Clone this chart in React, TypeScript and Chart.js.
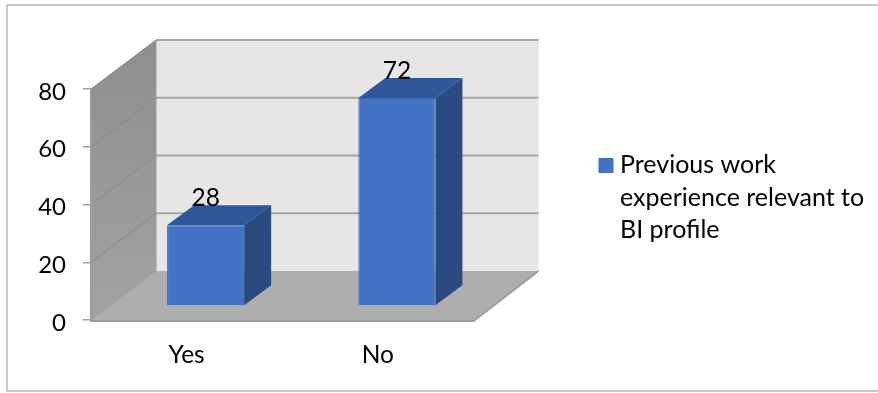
import React, { useEffect, useRef } from "react";
import { Chart, registerables } from "chart.js";

Chart.register(...registerables);

const categories = ["Yes", "No"];
const values = [28, 72];
const seriesName = "Previous work experience relevant to BI profile";
const legendLines = ["Previous work", "experience relevant to", "BI profile"];
const yTicks = [0, 20, 40, 60, 80];

const FONT = "Lato, 'Open Sans', sans-serif";
// Projection of the 3D box: how far the back wall sits from the front plane.
const WALL_DX = 65;
const WALL_DY = -49;
// Bars stand partway into the box and have their own depth.
const BAR_SHIFT_X = 19;
const BAR_SHIFT_Y = -14;
const BAR_DX = 27;
const BAR_DY = -20;

const box3d = {
  id: "box3d",
  beforeDraw(chart: any) {
    const { ctx, chartArea: a, scales } = chart;
    const y = scales.y;
    const l = a.left, r = a.right, t = a.top, b = a.bottom;
    ctx.save();
    // frame around the whole chart
    ctx.strokeStyle = "#b8b8b8";
    ctx.lineWidth = 1.5;
    ctx.beginPath();
    ctx.moveTo(878, 5);
    ctx.lineTo(7, 5);
    ctx.lineTo(7, 391);
    ctx.lineTo(878, 391);
    ctx.stroke();

    // back wall
    ctx.fillStyle = "#e6e6e6";
    ctx.fillRect(l + WALL_DX, t + WALL_DY, r - l, b - t);

    // side wall
    const grad = ctx.createLinearGradient(0, t + WALL_DY, 0, b);
    grad.addColorStop(0, "#8e8e8e");
    grad.addColorStop(1, "#a2a2a2");
    ctx.fillStyle = grad;
    ctx.beginPath();
    ctx.moveTo(l, t);
    ctx.lineTo(l + WALL_DX, t + WALL_DY);
    ctx.lineTo(l + WALL_DX, b + WALL_DY);
    ctx.lineTo(l, b);
    ctx.closePath();
    ctx.fill();

    // floor
    ctx.fillStyle = "#aeaeae";
    ctx.beginPath();
    ctx.moveTo(l, b);
    ctx.lineTo(l + WALL_DX, b + WALL_DY);
    ctx.lineTo(r + WALL_DX, b + WALL_DY);
    ctx.lineTo(r, b);
    ctx.closePath();
    ctx.fill();

    // gridlines run along the side wall and across the back wall
    yTicks.forEach((v) => {
      const py = y.getPixelForValue(v);
      if (v > 0) {
        ctx.strokeStyle = "#a6a6a6";
        ctx.lineWidth = 2;
        ctx.beginPath();
        ctx.moveTo(l + WALL_DX, py + WALL_DY);
        ctx.lineTo(r + WALL_DX, py + WALL_DY);
        ctx.stroke();
        ctx.strokeStyle = "#8a8a8a";
        ctx.lineWidth = 1;
        ctx.beginPath();
        ctx.moveTo(l, py);
        ctx.lineTo(l + WALL_DX, py + WALL_DY);
        ctx.stroke();
      }
    });

    // floor and wall edges
    ctx.strokeStyle = "#9c9c9c";
    ctx.lineWidth = 2;
    ctx.beginPath();
    ctx.moveTo(l, t);
    ctx.lineTo(l, b + 1);
    ctx.lineTo(r, b + 1);
    ctx.lineTo(r + WALL_DX, b + WALL_DY);
    ctx.stroke();
    ctx.lineWidth = 1;
    ctx.beginPath();
    ctx.moveTo(l, b);
    ctx.lineTo(l + WALL_DX, b + WALL_DY);
    ctx.lineTo(l + WALL_DX, t + WALL_DY);
    ctx.stroke();
    ctx.restore();
  },
  beforeDatasetsDraw(chart: any) {
    const { ctx } = chart;
    ctx.save();
    ctx.translate(BAR_SHIFT_X, BAR_SHIFT_Y);
    chart.getDatasetMeta(0).data.forEach((bar: any) => {
      const { x, y, base, width } = bar.getProps(["x", "y", "base", "width"], true);
      const left = x - width / 2;
      const right = x + width / 2;
      // top face
      ctx.fillStyle = "#30569a";
      ctx.beginPath();
      ctx.moveTo(left, y);
      ctx.lineTo(left + BAR_DX, y + BAR_DY);
      ctx.lineTo(right + BAR_DX, y + BAR_DY);
      ctx.lineTo(right, y);
      ctx.closePath();
      ctx.fill();
      // side face
      ctx.fillStyle = "#2b4a80";
      ctx.beginPath();
      ctx.moveTo(right, y);
      ctx.lineTo(right + BAR_DX, y + BAR_DY);
      ctx.lineTo(right + BAR_DX, base + BAR_DY);
      ctx.lineTo(right, base);
      ctx.closePath();
      ctx.fill();
    });
  },
  afterDatasetsDraw(chart: any) {
    const { ctx } = chart;
    ctx.restore();
    ctx.save();
    ctx.fillStyle = "#000000";
    ctx.font = `24.5px ${FONT}`;
    ctx.textAlign = "center";
    ctx.textBaseline = "middle";
    chart.getDatasetMeta(0).data.forEach((bar: any, i: number) => {
      const { x, y } = bar.getProps(["x", "y"], true);
      ctx.fillText(String(values[i]), x + BAR_SHIFT_X, y + BAR_SHIFT_Y - 27);
    });

    // legend, wrapped over three lines beside its swatch
    ctx.fillStyle = "#4472c4";
    ctx.fillRect(598.5, 158, 15, 15);
    ctx.fillStyle = "#000000";
    ctx.textAlign = "left";
    ctx.font = `25px ${FONT}`;
    legendLines.forEach((line, i) => {
      ctx.fillText(line, 620, 165 + i * 32.5);
    });
    ctx.restore();
  },
};

export default function App() {
  const ref = useRef<HTMLCanvasElement>(null);
  useEffect(() => {
    const chart = new Chart(ref.current!, {
      type: "bar",
      data: {
        labels: categories,
        datasets: [
          {
            label: seriesName,
            data: values,
            backgroundColor: "#4472c4",
            borderColor: "#3f69b5",
            borderWidth: 1,
            barPercentage: 0.403,
            categoryPercentage: 1,
            clip: false,
          } as any,
        ],
      },
      options: {
        responsive: false,
        animation: false,
        layout: { padding: { top: 89, right: 404.5, left: 0, bottom: 0 } },
        plugins: { legend: { display: false }, tooltip: { enabled: false } },
        scales: {
          x: {
            afterFit: (s: any) => { s.height = 73; },
            grid: { display: false },
            border: { display: false },
            ticks: {
              font: { family: FONT, size: 24.5 },
              color: "#000000",
              padding: 12,
              maxRotation: 0,
            },
          },
          y: {
            min: 0,
            max: 80,
            afterFit: (s: any) => { s.width = 91; },
            grid: { drawOnChartArea: false, tickLength: 8, color: "#a0a0a0", lineWidth: 1.5 },
            border: { display: false },
            ticks: {
              stepSize: 20,
              font: { family: FONT, size: 24 },
              color: "#000000",
              padding: 17,
              labelOffset: 3,
            },
          },
        },
      },
      plugins: [box3d],
    });
    return () => chart.destroy();
  }, []);
  return (
    <canvas
      ref={ref}
      width={878}
      height={393}
      style={{ position: "fixed", left: 0, top: 0, display: "block" }}
    />
  );
}
